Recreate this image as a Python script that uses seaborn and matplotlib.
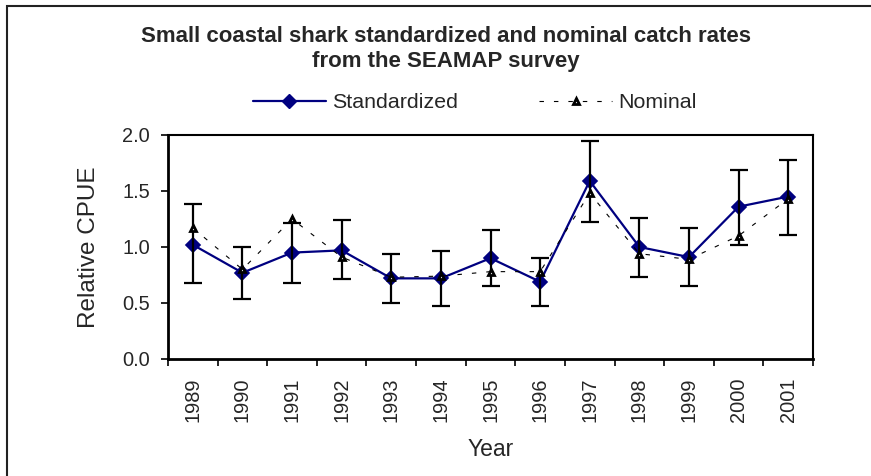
import numpy as np
import pandas as pd
import matplotlib.pyplot as plt
import seaborn as sns
from matplotlib.lines import Line2D
from matplotlib.patches import Rectangle

# data
years = ['1989', '1990', '1991', '1992', '1993', '1994', '1995',
         '1996', '1997', '1998', '1999', '2000', '2001']
standardized = [1.02, 0.77, 0.95, 0.97, 0.72, 0.72, 0.90, 0.69, 1.59, 1.00, 0.91, 1.36, 1.45]
std_lower = [0.68, 0.54, 0.68, 0.71, 0.50, 0.47, 0.65, 0.47, 1.22, 0.73, 0.65, 1.02, 1.11]
std_upper = [1.38, 1.00, 1.21, 1.24, 0.94, 0.96, 1.15, 0.90, 1.95, 1.26, 1.17, 1.69, 1.78]
nominal = [1.17, 0.80, 1.25, 0.91, 0.73, 0.74, 0.78, 0.78, 1.48, 0.94, 0.89, 1.10, 1.43]
y_ticks = [0.0, 0.5, 1.0, 1.5, 2.0]

df = pd.DataFrame({'Year': years, 'Standardized': standardized,
                   'Lower': std_lower, 'Upper': std_upper, 'Nominal': nominal})

sns.set_style("ticks")
plt.rcParams['font.family'] = ['Liberation Sans', 'DejaVu Sans']

W, H = 871, 476
fig = plt.figure(figsize=(W / 100, H / 100), dpi=100)
ax = fig.add_axes([168 / W, 1 - 359 / H, 645 / W, 224 / H])

navy = '#000080'

# standardized series
sns.pointplot(data=df, x='Year', y='Standardized', color=navy, marker='D',
              markersize=7, linewidth=1.6, errorbar=None, ax=ax, zorder=3)

# confidence intervals on the standardized series
pos = np.arange(len(years))
ax.errorbar(pos, df['Standardized'],
            yerr=[df['Standardized'] - df['Lower'], df['Upper'] - df['Standardized']],
            fmt='none', ecolor='black', elinewidth=1.6, capsize=6.5, capthick=1.6, zorder=4)

# nominal series
sns.pointplot(data=df, x='Year', y='Nominal', color='black', marker='^',
              markersize=5, linewidth=0.8, linestyle=(0, (4, 9)),
              markerfacecolor='white', markeredgecolor='black', markeredgewidth=2,
              errorbar=None, ax=ax, zorder=5)

ax.set_xlim(-0.5, len(years) - 0.5)
ax.set_ylim(0, 2.0)
ax.set_yticks(y_ticks)
ax.set_yticklabels([f'{t:.1f}' for t in y_ticks])

# Excel-style ticks between categories
ax.set_xticks(np.arange(len(years) + 1) - 0.5)
ax.set_xticklabels([])
ax.set_xticks(pos, minor=True)
ax.set_xticklabels(years, minor=True, rotation=90, fontsize=14.4)
ax.tick_params(axis='x', which='minor', length=0, pad=13)
ax.tick_params(axis='x', which='major', length=5, width=1.2, direction='out', color='black')
ax.tick_params(axis='y', length=5, width=1.2, direction='out', labelsize=14.4, pad=8, color='black')

for s in ax.spines.values():
    s.set_visible(True)
    s.set_color('black')
    s.set_linewidth(1.5)
ax.spines['left'].set_linewidth(2)
ax.spines['bottom'].set_linewidth(2)

ax.set_xlabel('Year', fontsize=16.5, labelpad=12)
ax.set_ylabel('Relative CPUE', fontsize=17.5, labelpad=16)

fig.text(446 / W, 1 - 49 / H,
         'Small coastal shark standardized and nominal catch rates\nfrom the SEAMAP survey',
         ha='center', va='center', fontsize=16, fontweight='bold', linespacing=1.2)

handles = [
    Line2D([], [], color=navy, marker='D', markersize=7, linewidth=1.6),
    Line2D([], [], color='black', marker='^', markersize=5, linewidth=0.8,
           linestyle=(0, (4, 9)), markerfacecolor='white', markeredgewidth=2),
]
fig.legend(handles, ['Standardized', 'Nominal'], loc='center', ncol=2,
           bbox_to_anchor=(475 / W, 1 - 103 / H), frameon=False, fontsize=15.4,
           handlelength=3.4, handletextpad=0.3, columnspacing=3.8)

# outer chart frame (only its top and left edges fall inside the crop)
fig.patches.append(Rectangle((7 / W, -0.1), 1.2, 1.1 - 5.5 / H, transform=fig.transFigure,
                             fill=False, edgecolor='#222222', linewidth=1.5))

fig.savefig('out.png', dpi=100)
